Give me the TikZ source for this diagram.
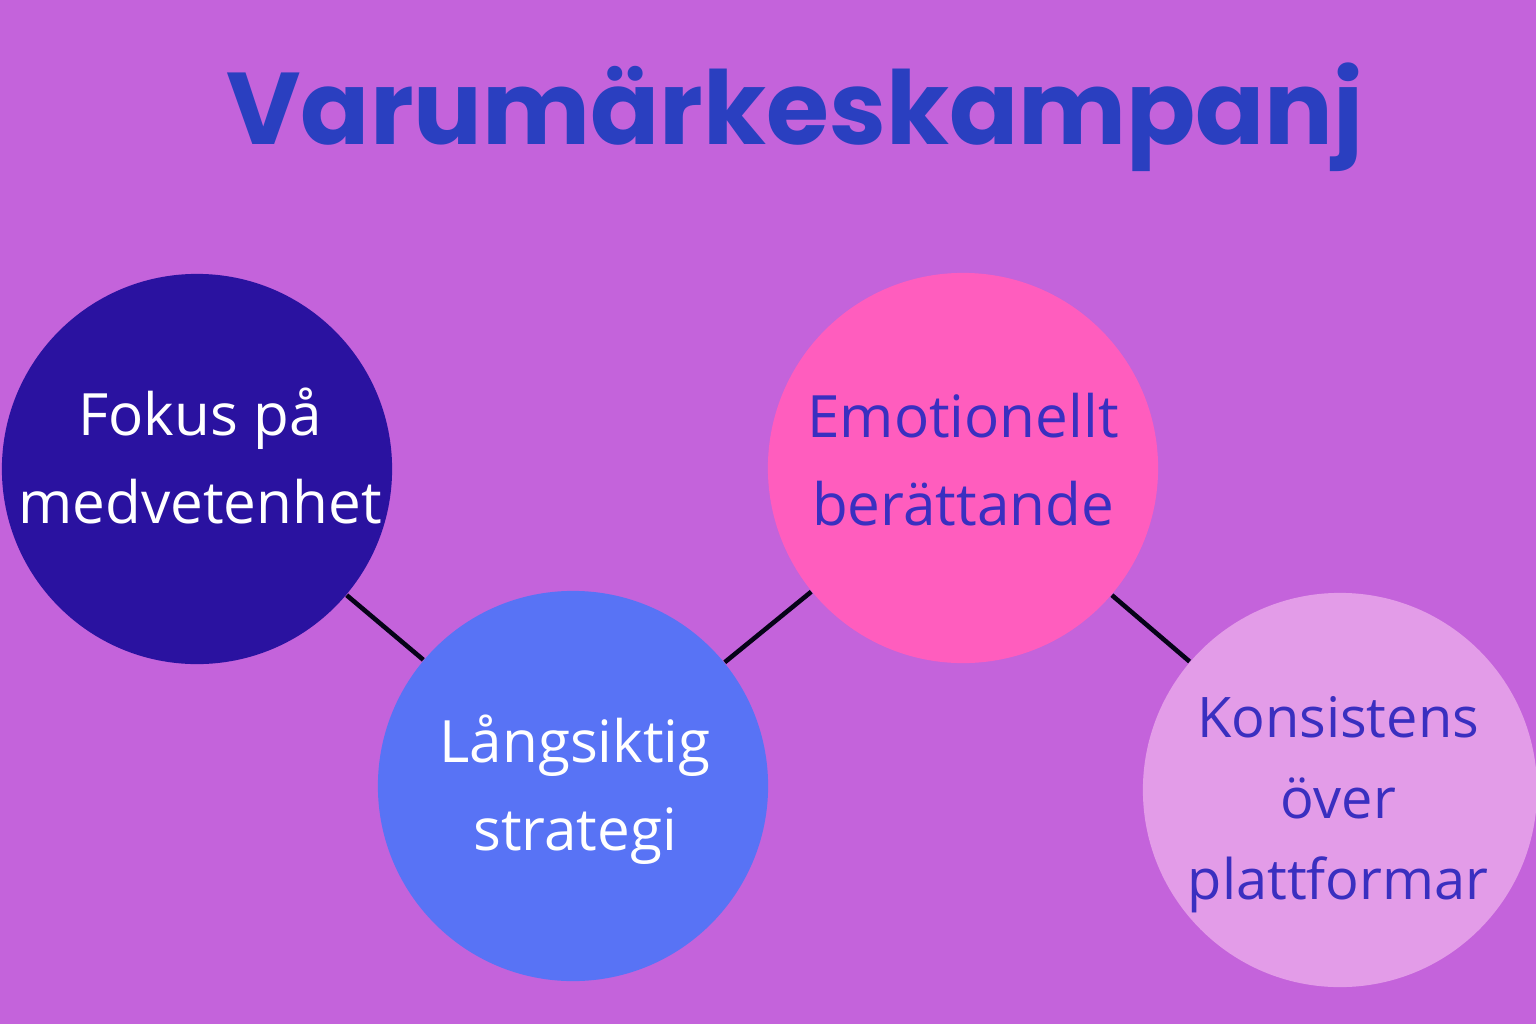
\documentclass[tikz,border=0pt]{standalone}
\usepackage{fontspec}
\setmainfont{Open Sans}
\newfontfamily\titlefont{Poppins}
\definecolor{bg}{HTML}{C463DB}
\definecolor{cA}{HTML}{2A12A0}
\definecolor{cB}{HTML}{5873F5}
\definecolor{cC}{HTML}{FF5DBE}
\definecolor{cD}{HTML}{E39CE8}
\definecolor{tit}{HTML}{2A3FC0}
\definecolor{dtxt}{HTML}{3A2FC0}
\begin{document}
\begin{tikzpicture}[x=0.01cm,y=-0.01cm,
  bub/.style={circle,minimum size=3.9cm,inner sep=0pt},
  lbl/.style={align=center,inner sep=0pt,font=\fontsize{16.6}{25}\selectfont},
  link/.style={line width=1.3pt,draw=black!85!cA}]
\fill[bg] (0,0) rectangle (1536,1024);
\useasboundingbox (0,0) rectangle (1536,1024);
\node (t) at (795,117) {\titlefont\bfseries\fontsize{29}{36}\selectfont\color{tit}Varumärkeskampanj};
\node[bub,fill=cA] (a) at (197,469) {};
\node[bub,fill=cB] (b) at (573,786) {};
\node[bub,fill=cC] (c) at (963,468) {};
\node[bub,fill=cD,minimum size=3.94cm] (d) at (1340,790) {};
\node[lbl,text=white] (at) at (200,456) {Fokus på\\medvetenhet};
\node[lbl,text=white] (bt) at (575,790) {Långsiktig\\strategi};
\node[lbl,text=dtxt] (ct) at (963,460) {Emotionellt\\berättande};
\node[lbl,text=dtxt,font=\fontsize{15.9}{23}\selectfont] (dt) at (1338,805) {Konsistens\\över\\plattformar};
\draw[link] (a) -- (b);
\draw[link] (b) -- (c);
\draw[link] (c) -- (d);
\end{tikzpicture}
\end{document}
